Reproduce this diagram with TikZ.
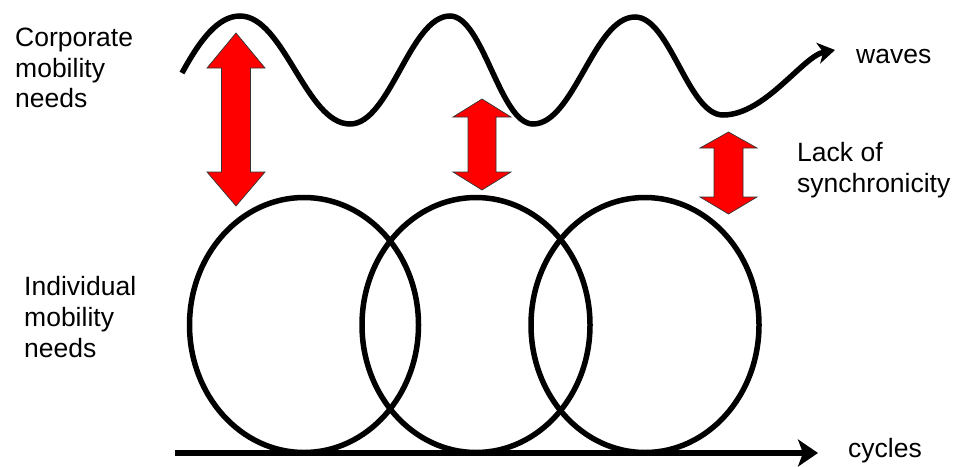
\documentclass[tikz,border=0pt]{standalone}
\usepackage{fontspec}
\setmainfont{Liberation Sans}
\usetikzlibrary{arrows.meta}
\tikzset{
  label text/.style={inner sep=0pt, font=\fontsize{26.5}{30.8}\selectfont, align=left, text=black},
  thick line/.style={line width=5.5pt, black},
  red arrow/.style={fill=red, draw=black!80, line width=0.7pt, line join=miter},
  ring/.style={line width=5.5pt, black},
}
\begin{document}
\begin{tikzpicture}[x=1pt,y=-1pt]
\useasboundingbox (0,0) rectangle (957,466);
% waves
\draw[thick line, -{Stealth[length=17pt,width=21pt,inset=5pt]}]
  (182,73) .. controls (200,40) and (218,16) .. (240,16)
  .. controls (284,16) and (306,124) .. (350,124)
  .. controls (390,124) and (410,16) .. (450,16)
  .. controls (483,16) and (500,124) .. (533,124)
  .. controls (574,124) and (594,17) .. (635,17)
  .. controls (670,17) and (688,115) .. (723,115)
  .. controls (765,115) and (803,56) .. (835,50);
% circles
\draw[ring] (304,325) ellipse [x radius=114.5pt, y radius=127.5pt];
\draw[ring] (476,325) ellipse [x radius=114pt, y radius=127.5pt];
\draw[ring] (645,325) ellipse [x radius=114pt, y radius=127.5pt];
% axis
\coordinate (ax0) at (175,453);
\coordinate (ax1) at (818,453);
\draw[thick line, -{Stealth[length=20pt,width=27pt,inset=5pt]}] (ax0) -- (ax1);
% red double arrows
\draw[red arrow] (236,33) -- (265,68) -- (250.5,68) -- (250.5,172) -- (265,172) -- (236,206)
  -- (207,172) -- (221.5,172) -- (221.5,68) -- (207,68) -- cycle;
\draw[red arrow] (482,99) -- (511,117) -- (496,117) -- (496,172) -- (511,172) -- (482,190)
  -- (453,172) -- (468,172) -- (468,117) -- (453,117) -- cycle;
\draw[red arrow] (728.5,132) -- (757,148) -- (743,148) -- (743,197) -- (757,197) -- (728.5,214)
  -- (700,197) -- (714,197) -- (714,148) -- (700,148) -- cycle;
% texts
\node[label text, anchor=north west] (corp) at (15,27.5) {Corporate\\mobility\\needs};
\node[label text, anchor=north west] (indiv) at (24,276) {Individual\\mobility\\needs};
\node[label text, anchor=north west] (lack) at (797,142.5) {Lack of\\synchronicity};
\node[label text, anchor=base west] (waves) at (856,63) {waves};
\node[label text, anchor=base west] (cycles) at (848,457) {cycles};
\end{tikzpicture}
\end{document}
